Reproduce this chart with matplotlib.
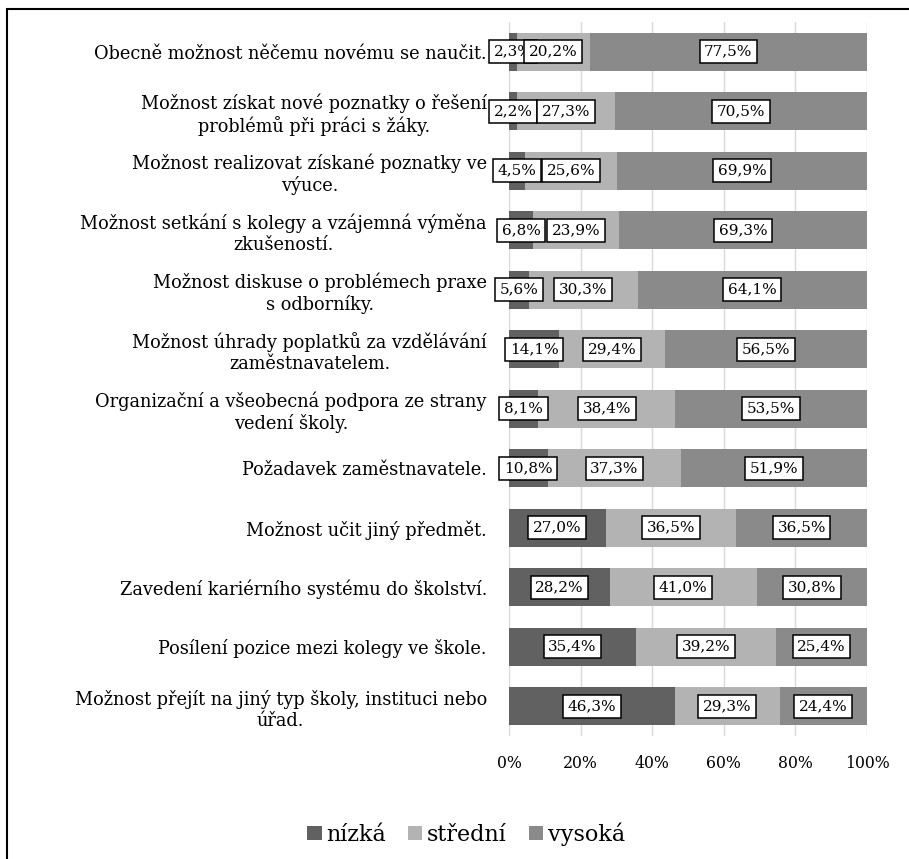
import matplotlib
matplotlib.use("Agg")
import matplotlib.pyplot as plt
from matplotlib.patches import Rectangle, Patch
import numpy as np

categories = [
    "Obecně možnost něčemu novému se naučit.",
    "Možnost získat nové poznatky o řešení\nproblémů při práci s žáky.",
    "Možnost realizovat získané poznatky ve\nvýuce.",
    "Možnost setkání s kolegy a vzájemná výměna\nzkušeností.",
    "Možnost diskuse o problémech praxe\ns odborníky.",
    "Možnost úhrady poplatků za vzdělávání\nzaměstnavatelem.",
    "Organizační a všeobecná podpora ze strany\nvedení školy.",
    "Požadavek zaměstnavatele.",
    "Možnost učit jiný předmět.",
    "Zavedení kariérního systému do školství.",
    "Posílení pozice mezi kolegy ve škole.",
    "Možnost přejít na jiný typ školy, instituci nebo\núřad.",
]
nizka = [2.3, 2.2, 4.5, 6.8, 5.6, 14.1, 8.1, 10.8, 27.0, 28.2, 35.4, 46.3]
stredni = [20.2, 27.3, 25.6, 23.9, 30.3, 29.4, 38.4, 37.3, 36.5, 41.0, 39.2, 29.3]
vysoka = [77.5, 70.5, 69.9, 69.3, 64.1, 56.5, 53.5, 51.9, 36.5, 30.8, 25.4, 24.4]
series_names = ["nízká", "střední", "vysoká"]
colors = ["#616161", "#b3b3b3", "#8a8a8a"]
xticks = [0, 20, 40, 60, 80, 100]
xticklabels = ["0%", "20%", "40%", "60%", "80%", "100%"]

plt.rcParams["font.family"] = ["DejaVu Serif"]

fig = plt.figure(figsize=(9.09, 8.59), dpi=100)
ax = fig.add_axes([509/909, 1-736/859, (867-509)/909, (736-22)/859])

n = len(categories)
y = np.arange(n)
series = [nizka, stredni, vysoka]
left = np.zeros(n)
for vals, col, name in zip(series, colors, series_names):
    vals = np.array(vals)
    ax.barh(y, vals, left=left, height=0.64, color=col, label=name, zorder=2)
    for yi, l, v in zip(y, left, vals):
        ax.text(l + v/2, yi, f"{v:.1f}".replace(".", ",") + "%",
                ha="center", va="center", fontsize=11, zorder=5,
                bbox=dict(boxstyle="square,pad=0.3", fc="white", ec="black", lw=1.1))
    left = left + vals

ax.set_xlim(0, 100)
ax.set_ylim(n - 0.5, -0.5)
ax.set_yticks(y)
ax.set_yticklabels(categories, fontsize=12.8, multialignment="center", linespacing=1.2)
ax.set_xticks(xticks)
ax.set_xticklabels(xticklabels, fontsize=11.3)
ax.tick_params(axis="y", length=0, pad=16)
ax.tick_params(axis="x", length=0, pad=14)
ax.grid(axis="x", color="#d9d9d9", lw=1, zorder=0)
ax.set_axisbelow(True)
for s in ax.spines.values():
    s.set_visible(False)

handles = [Patch(facecolor=c, edgecolor="none") for c in colors]
fig.legend(handles, series_names, loc="center", bbox_to_anchor=(466/909, 1-834/859),
           ncol=3, frameon=False, fontsize=16, handlelength=0.65, handleheight=0.65,
           handletextpad=0.2, columnspacing=1.0)

fig.patches.append(Rectangle((7/909, -0.1), 1.2, 1.1 - 9/859, transform=fig.transFigure,
                             fill=False, ec="black", lw=1.5, zorder=10))

fig.savefig("out.png", dpi=100, facecolor="white")
